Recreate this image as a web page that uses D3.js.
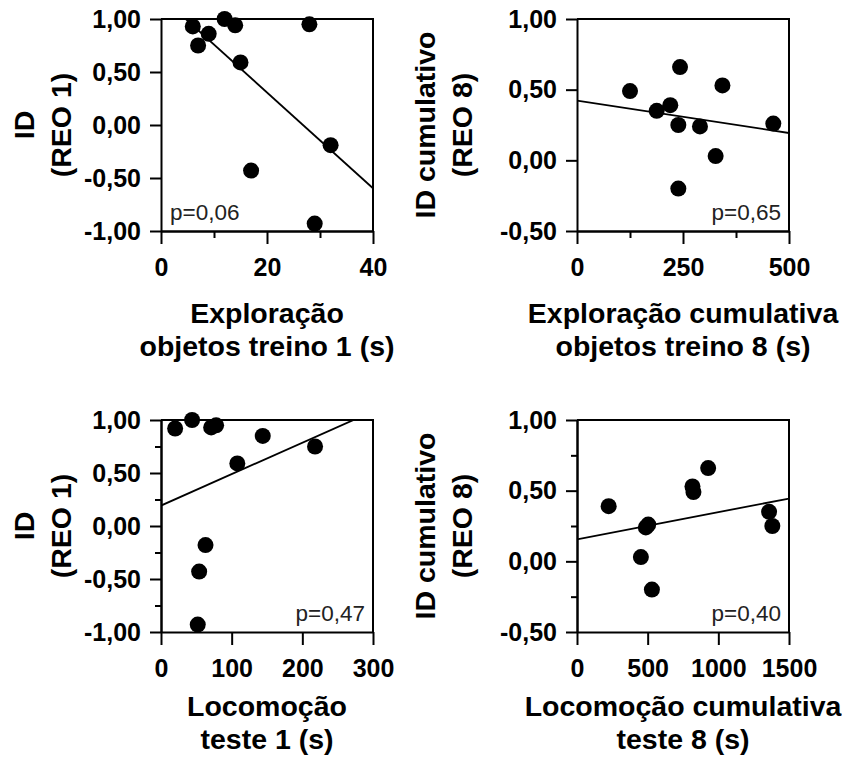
<!DOCTYPE html>
<html>
<head>
<meta charset="utf-8">
<script src="https://cdnjs.cloudflare.com/ajax/libs/d3/7.8.5/d3.min.js"></script>
<style>
    body { margin: 0; background: #ffffff; }
    svg { display: block; }
</style>
</head>
<body>
<div id="chart"></div>
<script>
// values (ID = discrimination index)
var explor1 = [6, 7, 9, 12, 14, 15, 17, 28, 29, 32];
var idExplor1 = [0.93, 0.75, 0.86, 1.00, 0.94, 0.59, -0.43, 0.95, -0.93, -0.19];

var explor8 = [125, 188, 220, 243, 239, 239, 290, 327, 343, 463];
var idExplor8 = [0.49, 0.35, 0.39, 0.66, 0.25, -0.20, 0.24, 0.03, 0.53, 0.26];

var loco1 = [20, 44, 71, 78, 108, 144, 218, 63, 54, 52];
var idLoco1 = [0.92, 1.00, 0.93, 0.95, 0.59, 0.85, 0.75, -0.18, -0.43, -0.93];

var loco8 = [224, 504, 487, 452, 530, 817, 824, 928, 1359, 1382];
var idLoco8 = [0.39, 0.26, 0.24, 0.03, -0.20, 0.53, 0.49, 0.66, 0.35, 0.25];

// tick values
var xTicksExplor1 = [0, 20, 40], xMinorExplor1 = [10, 30];
var xTicksExplor8 = [0, 250, 500], xMinorExplor8 = [125, 375];
var xTicksLoco1 = [0, 100, 200, 300];
var xTicksLoco8 = [0, 500, 1000, 1500];
var yTicksReo1 = [-1, -0.5, 0, 0.5, 1], yMinorReo1 = [-0.75, -0.25, 0.25, 0.75];
var yTicksReo8 = [-0.5, 0, 0.5, 1], yMinorReo8 = [-0.25, 0.25, 0.75];

var pValues = ["p=0,06", "p=0,65", "p=0,47", "p=0,40"];

var w = 842;
var h = 760;
var plotW = 212;
var plotH = 212;

var fontFamily = "Arial, 'Liberation Sans', sans-serif";
// 1,00 / -0,50 style labels with a plain hyphen
var comma = function (d) { return d3.format(".2f")(d).replace(".", ",").replace("\u2212", "-"); };

var panels = [
    { xs: explor1, ys: idExplor1, xDomain: [0, 40], yDomain: [-1, 1],
      xTicks: xTicksExplor1, xMinor: xMinorExplor1, yTicks: yTicksReo1, yMinor: [],
      left: 161, top: 19, p: pValues[0], pLeft: true, titleGap: 92,
      xTitle: ["Exploração", "objetos treino 1 (s)"], yTitle: ["ID", "(REO 1)"], yTitleX: 34 },
    { xs: explor8, ys: idExplor8, xDomain: [0, 500], yDomain: [-0.5, 1],
      xTicks: xTicksExplor8, xMinor: xMinorExplor8, yTicks: yTicksReo8, yMinor: [],
      left: 577, top: 19, p: pValues[1], pLeft: false, titleGap: 92,
      xTitle: ["Exploração cumulativa", "objetos treino 8 (s)"], yTitle: ["ID cumulativo", "(REO 8)"], yTitleX: 435 },
    { xs: loco1, ys: idLoco1, xDomain: [0, 300], yDomain: [-1, 1],
      xTicks: xTicksLoco1, xMinor: [], yTicks: yTicksReo1, yMinor: yMinorReo1,
      left: 161, top: 420, p: pValues[2], pLeft: false, titleGap: 84,
      xTitle: ["Locomoção", "teste 1 (s)"], yTitle: ["ID", "(REO 1)"], yTitleX: 34 },
    { xs: loco8, ys: idLoco8, xDomain: [0, 1500], yDomain: [-0.5, 1],
      xTicks: xTicksLoco8, xMinor: [], yTicks: yTicksReo8, yMinor: yMinorReo8,
      left: 577, top: 420, p: pValues[3], pLeft: false, titleGap: 84,
      xTitle: ["Locomoção cumulativa", "teste 8 (s)"], yTitle: ["ID cumulativo", "(REO 8)"], yTitleX: 435 }
];

//Create SVG element
var svg = d3.select("#chart").append("svg").attr("width", w).attr("height", h);

function leastSquares(xs, ys) {
    var mx = d3.mean(xs), my = d3.mean(ys);
    var sxy = 0, sxx = 0;
    for (var i = 0; i < xs.length; i++) {
        sxy += (xs[i] - mx) * (ys[i] - my);
        sxx += (xs[i] - mx) * (xs[i] - mx);
    }
    var slope = sxy / sxx;
    return { slope: slope, intercept: my - slope * mx };
}

function styleAxis(g, size) {
    g.attr("font-family", fontFamily).attr("font-size", size + "px").attr("font-weight", "bold");
    g.selectAll("path, line").attr("stroke", "#000").attr("stroke-width", 2);
    g.selectAll("text").attr("fill", "#000");
}

panels.forEach(function (p, k) {

    var xScale = d3.scaleLinear().domain(p.xDomain).range([0, plotW]);
    var yScale = d3.scaleLinear().domain(p.yDomain).range([plotH, 0]);

    var g = svg.append("g").attr("transform", "translate(" + p.left + "," + p.top + ")");

    g.append("clipPath").attr("id", "clip" + k)
        .append("rect").attr("width", plotW).attr("height", plotH);

    // regression line over the full x range
    var fit = leastSquares(p.xs, p.ys);
    g.append("line")
        .attr("clip-path", "url(#clip" + k + ")")
        .attr("x1", xScale(p.xDomain[0]))
        .attr("y1", yScale(fit.intercept + fit.slope * p.xDomain[0]))
        .attr("x2", xScale(p.xDomain[1]))
        .attr("y2", yScale(fit.intercept + fit.slope * p.xDomain[1]))
        .attr("stroke", "#000")
        .attr("stroke-width", 1.8);

    // frame top + right
    g.append("path")
        .attr("d", "M0,0H" + plotW + "V" + plotH)
        .attr("fill", "none")
        .attr("stroke", "#000")
        .attr("stroke-width", 2);

    // axes
    var yAxis = d3.axisLeft(yScale).tickValues(p.yTicks).tickFormat(comma)
        .tickSize(11).tickSizeOuter(0).tickPadding(9);
    g.append("g").call(yAxis).call(styleAxis, 25);

    if (p.yMinor.length) {
        g.append("g").call(d3.axisLeft(yScale).tickValues(p.yMinor).tickFormat("").tickSize(6).tickSizeOuter(0))
            .call(styleAxis, 25);
    }

    var xAxis = d3.axisBottom(xScale).tickValues(p.xTicks).tickFormat(d3.format("d"))
        .tickSize(13).tickSizeOuter(0).tickPadding(14);
    g.append("g").attr("transform", "translate(0," + plotH + ")").call(xAxis).call(styleAxis, 25);

    if (p.xMinor.length) {
        g.append("g").attr("transform", "translate(0," + plotH + ")")
            .call(d3.axisBottom(xScale).tickValues(p.xMinor).tickFormat("").tickSize(7).tickSizeOuter(0))
            .call(styleAxis, 25);
    }

    // points
    g.selectAll("circle")
        .data(p.xs)
        .enter()
        .append("circle")
        .attr("cx", function (d) { return xScale(d); })
        .attr("cy", function (d, i) { return yScale(p.ys[i]); })
        .attr("r", 8)
        .attr("fill", "#000");

    // p value
    g.append("text")
        .attr("x", p.pLeft ? 9 : plotW - 8)
        .attr("y", plotH - 11)
        .attr("text-anchor", p.pLeft ? "start" : "end")
        .attr("font-family", fontFamily)
        .attr("font-size", "22.5px")
        .attr("fill", "#222")
        .text(p.p);

    // x title
    g.selectAll(".xtitle")
        .data(p.xTitle)
        .enter()
        .append("text")
        .attr("class", "xtitle")
        .attr("x", plotW / 2)
        .attr("y", function (d, i) { return plotH + p.titleGap + i * 33; })
        .attr("text-anchor", "middle")
        .attr("font-family", fontFamily)
        .attr("font-size", "28.5px")
        .attr("font-weight", "bold")
        .text(function (d) { return d; });

    // y title
    var yt = svg.append("g")
        .attr("transform", "translate(" + p.yTitleX + "," + (p.top + plotH / 2) + ") rotate(-90)");
    yt.selectAll("text")
        .data(p.yTitle)
        .enter()
        .append("text")
        .attr("x", 0)
        .attr("y", function (d, i) { return i * 37; })
        .attr("text-anchor", "middle")
        .attr("font-family", fontFamily)
        .attr("font-size", "28.5px")
        .attr("font-weight", "bold")
        .text(function (d) { return d; });
});
</script>
</body>
</html>
